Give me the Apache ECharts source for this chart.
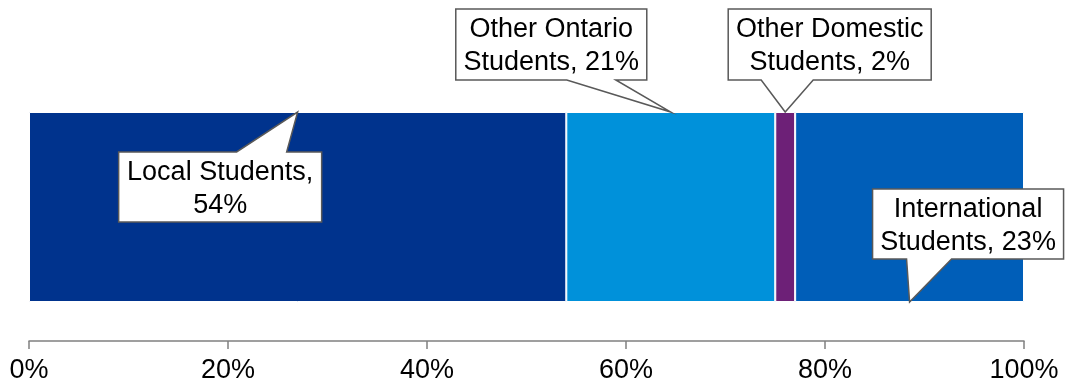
<!DOCTYPE html>
<html>
<head>
<meta charset="utf-8">
<style>
  html, body { margin: 0; padding: 0; background: #ffffff; }
  #chart { width: 1066px; height: 385px; }
</style>
<script src="https://cdn.jsdelivr.net/npm/echarts@6/dist/echarts.min.js"></script>
</head>
<body>
<div id="chart"></div>
<script>
// Student mix, share of total enrolment (%)
const segments = ['Local Students', 'Other Ontario Students', 'Other Domestic Students', 'International Students'];
const shares = [54, 21, 2, 23];
const colors = ['#00338D', '#0091DA', '#6D2077', '#005EB8'];
const tickValues = [0, 20, 40, 60, 80, 100];

// Callout text lines for each segment
const calloutLines = [
  ['Local Students,', '54%'],
  ['Other Ontario', 'Students, 21%'],
  ['Other Domestic', 'Students, 2%'],
  ['International', 'Students, 23%']
];

// Callout box geometry relative to the pointer tip (px):
// box [left, right, top, bottom], pointer base [from, to], anchor edge of the bar
const calloutLayout = [
  { box: [-179, 24, 40, 110], base: [-61, -11], edge: 'top' },
  { box: [-215, -24, -103, -32], base: [-104, -55], edge: 'top' },
  { box: [-57, 146, -103, -32], base: [-24, 28], edge: 'top' },
  { box: [-37, 154, -113, -43], base: [-3, 42], edge: 'bottom' }
];

const FONT = '"Liberation Sans", Arial, Helvetica, sans-serif';
const BAR_WIDTH = 190;

const chart = echarts.init(document.getElementById('chart'), null, { renderer: 'canvas' });

const series = segments.map((name, i) => ({
  name: name,
  type: 'bar',
  stack: 'total',
  barWidth: BAR_WIDTH,
  data: [shares[i]],
  itemStyle: { color: colors[i], borderColor: '#ffffff', borderWidth: 1 },
  silent: true,
  animation: false
}));

chart.setOption({
  animation: false,
  backgroundColor: '#ffffff',
  grid: { left: 29, right: 42, top: 73, bottom: 44, containLabel: false },
  xAxis: {
    type: 'value',
    min: tickValues[0],
    max: tickValues[tickValues.length - 1],
    interval: tickValues[1] - tickValues[0],
    axisLine: { show: true, lineStyle: { color: '#808080', width: 1.5 } },
    axisTick: { show: true, length: 8, lineStyle: { color: '#808080', width: 1.5 } },
    splitLine: { show: false },
    axisLabel: {
      formatter: '{value}%',
      color: '#000000',
      fontFamily: FONT,
      fontSize: 27,
      margin: 16
    }
  },
  yAxis: {
    type: 'category',
    data: ['Students'],
    show: false
  },
  series: series
});

// Build callouts pointing at the middle of each segment
const graphics = [];
let cumulative = 0;
shares.forEach((v, i) => {
  const mid = cumulative + v / 2;
  cumulative += v;
  const center = chart.convertToPixel({ gridIndex: 0 }, [mid, 0]);
  const lay = calloutLayout[i];
  const tx = center[0];
  const ty = lay.edge === 'top' ? center[1] - BAR_WIDTH / 2 : center[1] + BAR_WIDTH / 2;
  const L = tx + lay.box[0], R = tx + lay.box[1], T = ty + lay.box[2], B = ty + lay.box[3];
  const b0 = tx + lay.base[0], b1 = tx + lay.base[1];
  let pts;
  if (T > ty) {
    // box below tip: pointer leaves the top edge
    pts = [[L, T], [b0, T], [tx, ty], [b1, T], [R, T], [R, B], [L, B]];
  } else {
    // box above tip: pointer leaves the bottom edge
    pts = [[L, T], [R, T], [R, B], [b1, B], [tx, ty], [b0, B], [L, B]];
  }
  graphics.push({
    type: 'polygon',
    shape: { points: pts },
    style: { fill: '#ffffff', stroke: '#595959', lineWidth: 1.5, lineJoin: 'miter' },
    silent: true,
    z: 10
  });
  graphics.push({
    type: 'text',
    x: (L + R) / 2,
    y: (T + B) / 2 + 2,
    style: {
      text: calloutLines[i].join('\n'),
      fill: '#000000',
      font: '27px ' + FONT,
      lineHeight: 33,
      align: 'center',
      verticalAlign: 'middle'
    },
    silent: true,
    z: 11
  });
});

chart.setOption({ graphic: graphics });
</script>
</body>
</html>
